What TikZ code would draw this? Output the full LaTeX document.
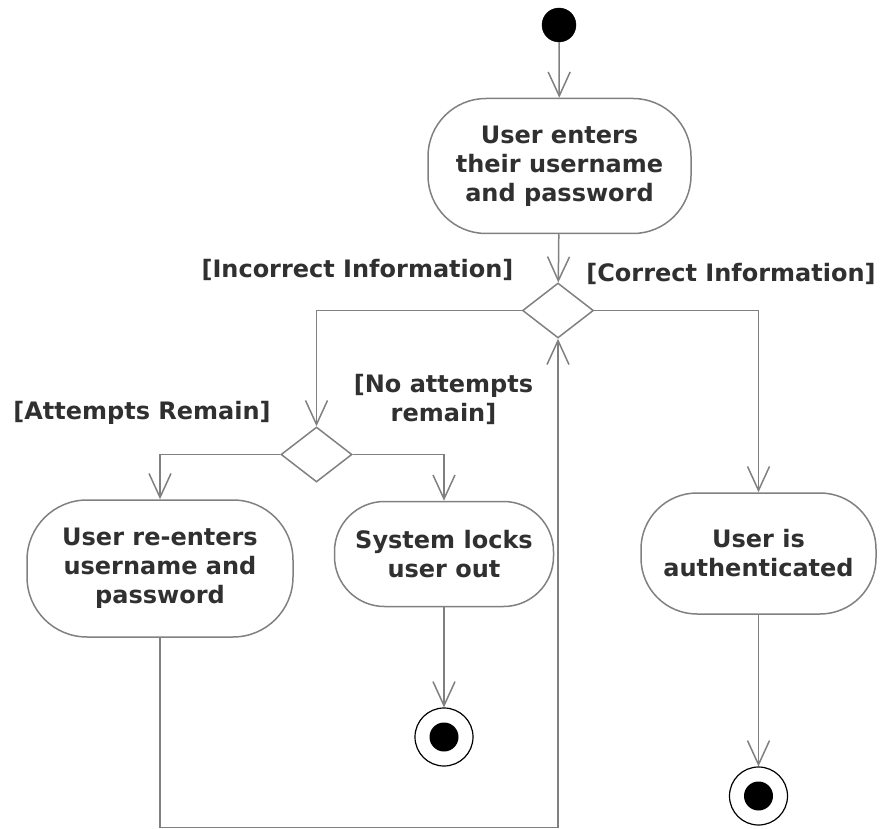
\documentclass[tikz,border=0pt]{standalone}
\usepackage{fontspec}
\setmainfont{DejaVu Sans}
\usetikzlibrary{arrows.meta,shapes.geometric}
\definecolor{ln}{HTML}{808080}
\definecolor{tx}{HTML}{303030}
\begin{document}
\begin{tikzpicture}[x=1pt,y=-1pt,
  every node/.style={font=\fontsize{24}{29}\selectfont\bfseries, text=tx},
  act/.style={draw=ln, line width=1.5pt, rectangle, inner sep=0pt, align=center},
  dec/.style={draw=ln, line width=1.5pt, diamond, inner sep=0pt, minimum width=71pt, minimum height=55pt},
  startnode/.style={circle, fill=black, draw=black, inner sep=0pt, minimum size=34pt},
  endnode/.style={circle, draw=black, line width=1.2pt, inner sep=0pt, minimum size=58pt,
     path picture={\fill[black] (path picture bounding box.center) circle (14.5pt);}},
  flow/.style={draw=ln, line width=1.5pt, -{Straight Barb[length=24pt,width=22pt]}},
  line/.style={draw=ln, line width=1.5pt},
  guard/.style={align=center}
]
\useasboundingbox (0,0) rectangle (881,829);
\node[startnode] (s) at (559,25) {};
\node[act, minimum width=263pt, minimum height=135pt, rounded corners=58pt] (a1) at (559.5,166) {User enters\\their username\\and password};
\node[dec] (d1) at (558,310.5) {};
\node[dec] (d2) at (316.5,454.5) {};
\node[act, minimum width=266pt, minimum height=137pt, rounded corners=60pt] (a2) at (160,568.5) {User re-enters\\username and\\password};
\node[act, minimum width=219pt, minimum height=105pt, rounded corners=50pt] (a3) at (444,554) {System locks\\user out};
\node[act, minimum width=235pt, minimum height=121pt, rounded corners=56pt] (a4) at (758.5,553.5) {User is\\authenticated};
\node[endnode] (f1) at (444,737) {};
\node[endnode] (f2) at (758.5,796) {};
\coordinate (lb) at (558,827.5);

\node[guard] (g1) at (357.5,270) {[Incorrect Information]};
\node[guard] (g2) at (731,274) {[Correct Information]};
\node[guard] (g3) at (443.5,399) {[No attempts\\remain]};
\node[guard] (g4) at (142,413) {[Attempts Remain]};

\draw[flow] (s) -- (a1);
\draw[flow] (a1) -- (d1);
\draw[flow] (d1.west) -| (d2.north);
\draw[flow] (d1.east) -| (a4.north);
\draw[flow] (d2.west) -| (a2.north);
\draw[flow] (d2.east) -| (a3.north);
\draw[flow] (a3) -- (f1);
\draw[flow] (a4) -- (f2);
\draw[flow] (a2.south) |- (lb) -- (d1.south);
\end{tikzpicture}
\end{document}
